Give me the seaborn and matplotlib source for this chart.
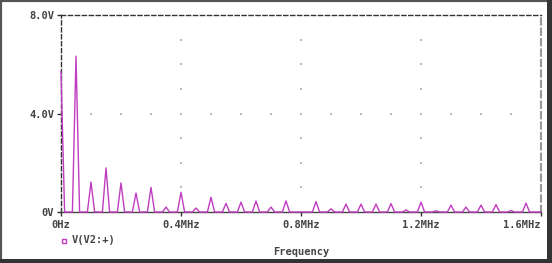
import numpy as np
import pandas as pd
import matplotlib
matplotlib.use("Agg")
import matplotlib.pyplot as plt
import seaborn as sns
from matplotlib.patches import Rectangle

# Harmonic frequencies (MHz) and amplitudes (V)
freqs_mhz = [0.00, 0.05, 0.10, 0.15, 0.20, 0.25, 0.30, 0.35, 0.40, 0.45,
             0.50, 0.55, 0.60, 0.65, 0.70, 0.75, 0.80, 0.85, 0.90, 0.95,
             1.00, 1.05, 1.10, 1.15, 1.20, 1.25, 1.30, 1.35, 1.40, 1.45,
             1.50, 1.55]
amps_v = [5.7, 6.33, 1.22, 1.79, 1.18, 0.77, 1.00, 0.20, 0.80, 0.16,
          0.60, 0.35, 0.40, 0.45, 0.20, 0.45, 0.00, 0.42, 0.13, 0.32,
          0.32, 0.32, 0.34, 0.08, 0.40, 0.05, 0.28, 0.20, 0.28, 0.30,
          0.06, 0.36]
x_ticks = [0.0, 0.4, 0.8, 1.2, 1.6]
x_tick_labels = ["0Hz", "0.4MHz", "0.8MHz", "1.2MHz", "1.6MHz"]
y_ticks = [0, 4, 8]
y_tick_labels = ["0V", "4.0V", "8.0V"]
series_name = "V(V2:+)"

# Build spectrum trace (narrow triangle per harmonic line)
hw = 0.012
xs, ys = [], []
for f, a in zip(freqs_mhz, amps_v):
    if f == 0:
        xs += [f, f + hw]
        ys += [a, 0]
    else:
        xs += [f - hw, f, f + hw]
        ys += [0, a, 0]
xs.append(1.6)
ys.append(0)
df = pd.DataFrame({"Frequency": xs, "V": ys})

W, H = 552, 263
fig = plt.figure(figsize=(W / 100, H / 100), dpi=100)
fig.patch.set_facecolor("white")

# outer frame
fig.add_artist(Rectangle((0, 0), 1, 1, transform=fig.transFigure, fill=False,
                         edgecolor="#555555", linewidth=3))
fig.add_artist(Rectangle((0, 0), 1, 4 / H, transform=fig.transFigure,
                         facecolor="#333333", edgecolor="none"))
fig.add_artist(Rectangle((1 - 5 / W, 0), 5 / W, 1, transform=fig.transFigure,
                         facecolor="#333333", edgecolor="none"))

left, right, top, bottom = 61, 541, 15, 212
ax = fig.add_axes([left / W, 1 - bottom / H, (right - left) / W, (bottom - top) / H])

mag = "#c03cc0"
sns.lineplot(data=df, x="Frequency", y="V", sort=False, ax=ax, color=mag,
             linewidth=1.0, estimator=None, zorder=5, clip_on=False)

ax.set_xlim(0, 1.6)
ax.set_ylim(0, 8)

# dotted grid marks
gx = np.arange(0.1, 1.6, 0.1)
ax.scatter(gx, np.full_like(gx, 4.0), s=1.5, color="#bbbbbb", marker="s", zorder=1, linewidths=0)
for xv in [0.4, 0.8, 1.2]:
    gy = np.arange(1, 8, 1)
    ax.scatter(np.full_like(gy, xv, dtype=float), gy, s=1.5, color="#bbbbbb", marker="s",
               zorder=1, linewidths=0)

mono = "DejaVu Sans Mono"
ax.set_xticks(x_ticks)
xl = ax.set_xticklabels(x_tick_labels, fontfamily=mono, fontweight="bold", fontsize=7.5, color="#444444")
xl[-1].set_horizontalalignment("right")
ax.set_yticks(y_ticks)
ax.set_yticklabels(y_tick_labels, fontfamily=mono, fontweight="bold", fontsize=7.5, color="#444444")
ax.tick_params(axis="both", direction="out", length=3, width=1, color="#333333", pad=3)
ax.tick_params(axis="y", pad=2)

ax.set_xlabel("")
ax.set_ylabel("")
for s in ["left", "top"]:
    ax.spines[s].set_linestyle((0, (3, 2)))
    ax.spines[s].set_color("#333333")
    ax.spines[s].set_linewidth(1)
ax.spines["right"].set_linestyle((0, (3, 2)))
ax.spines["right"].set_color("#999999")
ax.spines["right"].set_linewidth(1.5)
ax.spines["bottom"].set_color("#444444")
ax.spines["bottom"].set_linewidth(1)

# legend and axis title
fig.add_artist(Rectangle((62 / W, 1 - 243 / H), 4 / W, 4 / H, transform=fig.transFigure,
                         fill=False, edgecolor=mag, linewidth=1))
fig.text(72 / W, 1 - 240 / H, series_name, fontfamily=mono, fontweight="bold", fontsize=7.5,
         color="#444444", va="center", ha="left")
fig.text(301 / W, 1 - 252 / H, "Frequency", fontfamily=mono, fontweight="bold", fontsize=7.5,
         color="#444444", va="center", ha="center")

fig.savefig("out.png", dpi=100, facecolor="white")
